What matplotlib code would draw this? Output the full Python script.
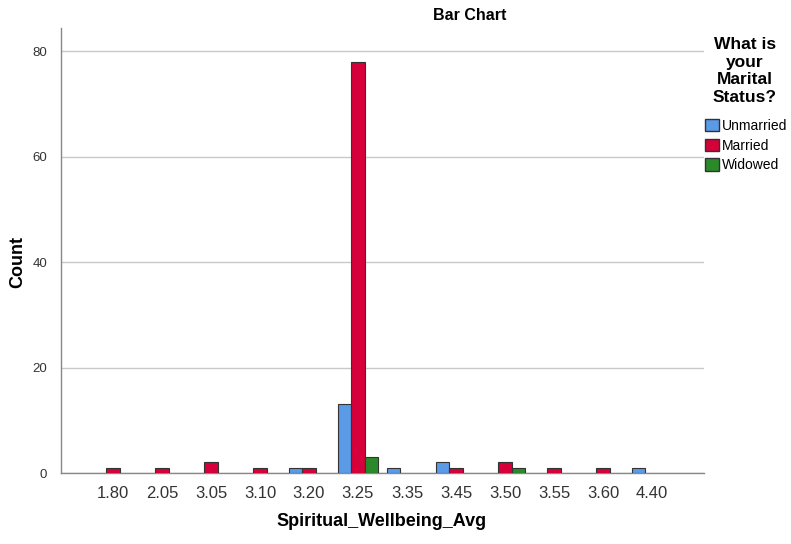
import matplotlib
matplotlib.use("Agg")
import matplotlib.pyplot as plt
import numpy as np
from matplotlib.patches import Patch

plt.rcParams['font.family'] = ['Liberation Sans', 'DejaVu Sans']

categories = ["1.80", "2.05", "3.05", "3.10", "3.20", "3.25", "3.35", "3.45", "3.50", "3.55", "3.60", "4.40"]
unmarried = [0, 0, 0, 0, 1, 13, 1, 2, 0, 0, 0, 1]
married = [1, 1, 2, 1, 1, 78, 0, 1, 2, 1, 1, 0]
widowed = [0, 0, 0, 0, 0, 3, 0, 0, 1, 0, 0, 0]
series_names = ["Unmarried", "Married", "Widowed"]
colors = ["#5a9ae6", "#d6003a", "#2a8a2a"]

fig = plt.figure(figsize=(7.91, 5.44), dpi=100)
ax = fig.add_axes([61/791, 1-473/544, (704-61)/791, (473-28)/544])

x = np.arange(len(categories))
w = 0.27
for i, (vals, c) in enumerate(zip([unmarried, married, widowed], colors)):
    vals = np.array(vals)
    mask = vals > 0
    ax.bar(x[mask] + (i-1)*w, vals[mask], width=w, color=c, edgecolor="#333333", linewidth=0.8, zorder=3)

ax.set_xlim(-1.06, len(categories)-1+1.06)
ax.set_ylim(0, 84.4)
ax.set_yticks([0, 20, 40, 60, 80])
ax.yaxis.grid(True, color="#c8c8c8", linewidth=1, zorder=0)
ax.set_xticks(x)
ax.set_xticklabels(categories, fontsize=12, color="#333333")
ax.tick_params(axis='y', labelsize=9.5, colors="#333333", length=0, pad=10)
ax.tick_params(axis='x', length=0, pad=9)
for s in ["top", "right"]:
    ax.spines[s].set_visible(False)
for s in ["left", "bottom"]:
    ax.spines[s].set_color("#888888")
    ax.spines[s].set_linewidth(1)

fig.text(382/791, 1-522/544, "Spiritual_Wellbeing_Avg", ha="center", va="center", fontsize=13, fontweight="bold")
fig.text(18/791, 1-262/544, "Count", ha="center", va="center", rotation=90, fontsize=13, fontweight="bold")
fig.text(470/791, 1-15/544, "Bar Chart", ha="center", va="center", fontsize=11.5, fontweight="bold")

fig.text(745/791, 1-37/544, "What is\nyour\nMarital\nStatus?", ha="center", va="top",
         fontsize=12.5, fontweight="bold", linespacing=1.22)
handles = [Patch(facecolor=c, edgecolor="#333333", label=n) for c, n in zip(colors, series_names)]
fig.legend(handles=handles, loc="upper left", bbox_to_anchor=(705/791, 1-119/544), frameon=False,
           fontsize=10, handlelength=1.0, handleheight=1.0, handletextpad=0.25, labelspacing=0.4,
           borderpad=0, borderaxespad=0)

fig.savefig("out.png", dpi=100)
